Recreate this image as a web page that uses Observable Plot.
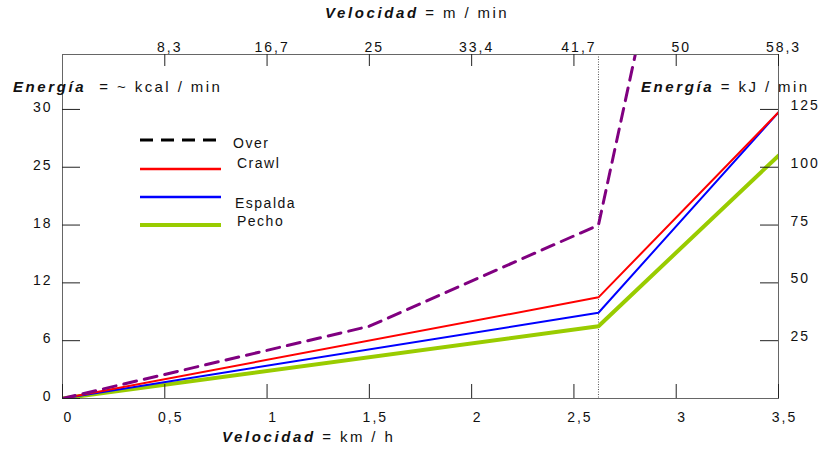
<!DOCTYPE html>
<html><head><meta charset="utf-8">
<script src="https://cdn.jsdelivr.net/npm/d3@7"></script>
<script src="https://cdn.jsdelivr.net/npm/@observablehq/plot@0.6"></script>
<style>
body{margin:0;background:#fff;}
</style></head><body><div id="wrap"></div>
<script>
// Series: velocity (km/h) vs energy (position on the kcal/min axis)
const overKmh = [0, 1.5, 2.62, 2.8];
const overKcal = [0, 7.5, 18.0, 35.7];
const crawlKmh = [0, 2.62, 3.5];
const crawlKcal = [0, 10.5, 29.7];
const espaldaKmh = [0, 2.62, 3.5];
const espaldaKcal = [0, 8.9, 29.7];
const pechoKmh = [0, 2.62, 3.5];
const pechoKcal = [0, 7.5, 25.2];
const breakKmh = [2.62];

// Tick labels
const bottomTicks = [0, 0.5, 1, 1.5, 2, 2.5, 3, 3.5];
const bottomLabels = ["0", "0,5", "1", "1,5", "2", "2,5", "3", "3,5"];
const topTicks = [0.5, 1, 1.5, 2, 2.5, 3, 3.5];
const topLabels = ["8,3", "16,7", "25", "33,4", "41,7", "50", "58,3"];
const leftTicks = [0, 6, 12, 18, 24, 30];
const leftLabels = ["0", "6", "12", "18", "25", "30"];
const rightTicks = [6, 12, 18, 24, 30];
const rightLabels = ["25", "50", "75", "100", "125"];

const toRows = (xs, ys) => xs.map((v, i) => ({v, e: ys[i]}));
const lab = (ticks, labels) => d => labels[ticks.indexOf(d)];
const font = '"Liberation Sans", Arial, sans-serif';

const W = 822, H = 449, mL = 62, mR = 44, mT = 54, mB = 51;

const plot = Plot.plot({
  width: W, height: H,
  marginLeft: mL, marginRight: mR, marginTop: mT, marginBottom: mB,
  x: {domain: [0, 3.5]},
  y: {domain: [0, 35.7]},
  marks: [
    Plot.ruleX(breakKmh, {stroke: "#555", strokeDasharray: "1,1.5", strokeWidth: 1}),
    Plot.line(toRows(pechoKmh, pechoKcal), {x: "v", y: "e", stroke: "#99cc00", strokeWidth: 4}),
    Plot.line(toRows(espaldaKmh, espaldaKcal), {x: "v", y: "e", stroke: "#0000ff", strokeWidth: 2}),
    Plot.line(toRows(crawlKmh, crawlKcal), {x: "v", y: "e", stroke: "#ff0000", strokeWidth: 2}),
    Plot.line(toRows(overKmh, overKcal), {x: "v", y: "e", stroke: "#800080", strokeWidth: 3, strokeDasharray: "13,8"}),
    // tick labels
    Plot.axisX({anchor: "bottom", ticks: bottomTicks, tickSize: 0, tickPadding: 14, dx: 6, tickFormat: lab(bottomTicks, bottomLabels), label: null}),
    Plot.axisX({anchor: "top", ticks: topTicks, tickSize: 0, tickPadding: 3, dx: 5, tickFormat: lab(topTicks, topLabels), label: null}),
    Plot.axisY({anchor: "left", ticks: leftTicks, tickSize: 0, tickPadding: 10, dy: -2, tickFormat: lab(leftTicks, leftLabels), label: null}),
    Plot.axisY({anchor: "right", ticks: rightTicks, tickSize: 0, tickPadding: 12, dy: -4, tickFormat: lab(rightTicks, rightLabels), label: null}),
    Plot.frame({stroke: "#666"})
  ]
});

document.getElementById("wrap").appendChild(plot);
const svg = d3.select(plot)
  .attr("font-family", font).attr("font-size", 14)
  .style("letter-spacing", "2px").style("color", "#111").style("background", "#fff");

const xs = plot.scale("x"), ys = plot.scale("y");
const [y0, y1] = ys.range;   // bottom, top
const [x0, x1] = xs.range;   // left, right
const yBottom = Math.max(y0, y1), yTop = Math.min(y0, y1);

// Cut the Over line at the top of the frame
svg.append("clipPath").attr("id", "frameclip").append("rect")
  .attr("x", x0).attr("y", yTop).attr("width", x1 - x0).attr("height", yBottom - yTop);
svg.selectAll('g[aria-label="line"]').attr("clip-path", "url(#frameclip)");

// Inward tick marks, placed through the plot's own scales
const tg = svg.append("g").attr("aria-label", "ticks").attr("stroke", "#222").attr("stroke-width", 1);
for (const v of bottomTicks) { const x = xs.apply(v) + 0.5; tg.append("line").attr("x1", x).attr("x2", x).attr("y1", yBottom).attr("y2", yBottom - 14); }
for (const v of topTicks) { const x = xs.apply(v) + 0.5; tg.append("line").attr("x1", x).attr("x2", x).attr("y1", yTop).attr("y2", yTop + 12); }
for (const v of leftTicks) { const y = ys.apply(v) + 0.5; tg.append("line").attr("x1", x0).attr("x2", x0 + 18).attr("y1", y).attr("y2", y); }
for (const v of rightTicks) { const y = ys.apply(v) + 0.5; tg.append("line").attr("x1", x1).attr("x2", x1 - 18).attr("y1", y).attr("y2", y); }

// Axis titles
const titles = [
  {bold: "Velocidad", rest: " = m / min", x: 325, y: 18},
  {bold: "Energía", rest: "  = ~ kcal / min", x: 13, y: 92},
  {bold: "Energía", rest: " = kJ / min", x: 641, y: 92},
  {bold: "Velocidad", rest: " = km / h", x: 222, y: 442}
];
for (const t of titles) {
  const tx = svg.append("text").attr("x", t.x).attr("y", t.y)
    .attr("text-anchor", "start").attr("font-size", 15).attr("letter-spacing", "2.4px").attr("fill", "#111");
  tx.append("tspan").attr("font-weight", "bold").attr("font-style", "italic").attr("letter-spacing", "2.6px").text(t.bold);
  tx.append("tspan").text(t.rest);
}

// Legend
const legendItems = [
  {name: "Over", color: "#000", width: 3, dash: "13,8", lineY: 140, textY: 143, textX: 233},
  {name: "Crawl", color: "#ff0000", width: 2.5, dash: null, lineY: 169, textY: 163, textX: 237},
  {name: "Espalda", color: "#0000ff", width: 2.5, dash: null, lineY: 197, textY: 203, textX: 235},
  {name: "Pecho", color: "#99cc00", width: 4, dash: null, lineY: 225, textY: 221, textX: 237}
];
const lg = svg.append("g").attr("aria-label", "legend");
for (const it of legendItems) {
  lg.append("line").attr("x1", 140).attr("x2", 221).attr("y1", it.lineY).attr("y2", it.lineY)
    .attr("stroke", it.color).attr("stroke-width", it.width).attr("stroke-dasharray", it.dash);
  lg.append("text").attr("x", it.textX).attr("y", it.textY).attr("dy", "0.35em")
    .attr("text-anchor", "start").attr("font-size", 14).attr("letter-spacing", "1.5px").attr("fill", "#111")
    .text(it.name);
}
</script>
</body></html>
